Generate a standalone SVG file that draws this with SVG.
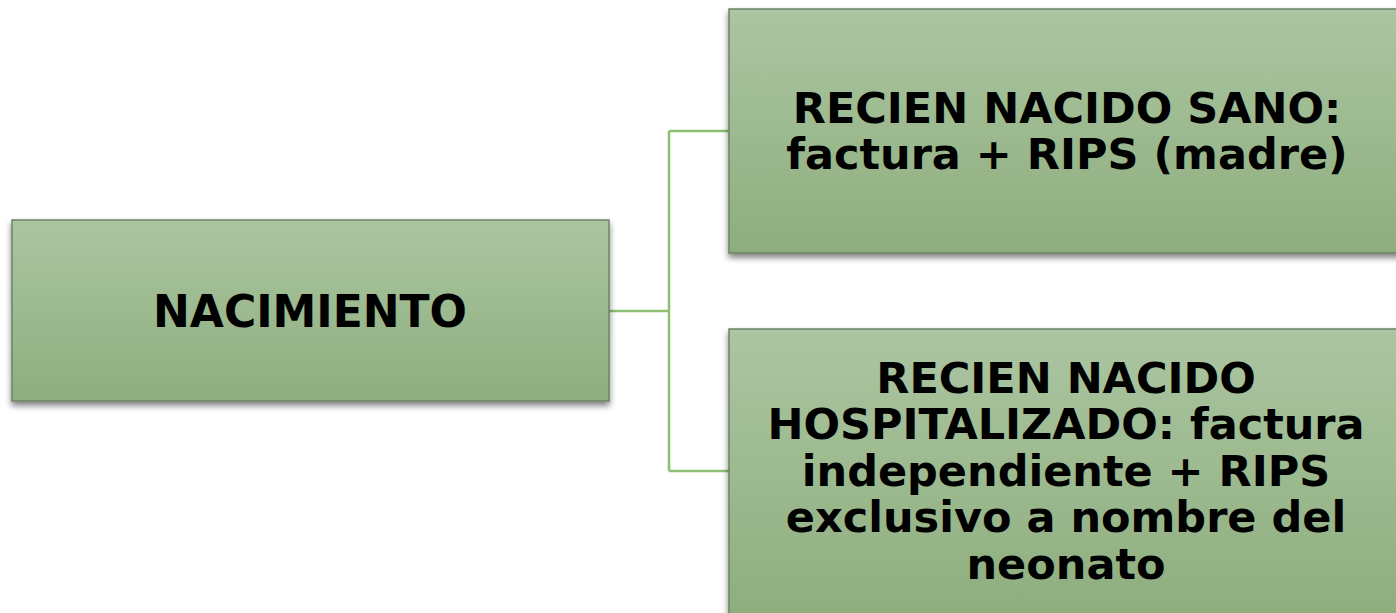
<svg xmlns="http://www.w3.org/2000/svg" width="1396" height="613" viewBox="0 0 1396 613">
  <defs>
    <linearGradient id="g" x1="0" y1="0" x2="0" y2="1">
      <stop offset="0" stop-color="#abc5a1"/>
      <stop offset="1" stop-color="#8eae7e"/>
    </linearGradient>
    <filter id="sh" x="-10%" y="-10%" width="120%" height="130%">
      <feGaussianBlur in="SourceAlpha" stdDeviation="3"/>
      <feOffset dx="0" dy="4" result="b"/>
      <feComponentTransfer><feFuncA type="linear" slope="0.5"/></feComponentTransfer>
      <feMerge><feMergeNode/><feMergeNode in="SourceGraphic"/></feMerge>
    </filter>
  </defs>
  <style>
    .box { fill: url(#g); stroke: #6e8266; stroke-width: 1.5; filter: url(#sh); }
    .lbl { font-family: "DejaVu Sans", Verdana, sans-serif; font-weight: bold; font-size: 43px; fill: #000; text-anchor: middle; }
    .con { fill: none; stroke: #8dc070; stroke-width: 2.5; }
  </style>
  <rect width="1396" height="613" fill="#ffffff"/>
  <g id="connectors">
    <path class="con" d="M609,311 H669 M669,131 V471 M669,131 H729 M669,471 H729"/>
  </g>
  <g id="nacimiento">
    <rect class="box" x="12" y="220" width="597" height="181"/>
    <text class="lbl" x="310" y="327" style="font-size:44px">NACIMIENTO</text>
  </g>
  <g id="sano">
    <rect class="box" x="729" y="9" width="675" height="244"/>
    <text class="lbl" x="1067" y="123">RECIEN NACIDO SANO:</text>
    <text class="lbl" x="1067" y="169">factura + RIPS (madre)</text>
  </g>
  <g id="hospitalizado">
    <rect class="box" x="729" y="329" width="675" height="290"/>
    <text class="lbl" x="1066" y="393">RECIEN NACIDO</text>
    <text class="lbl" x="1066" y="439">HOSPITALIZADO: factura</text>
    <text class="lbl" x="1066" y="486">independiente + RIPS</text>
    <text class="lbl" x="1066" y="532">exclusivo a nombre del</text>
    <text class="lbl" x="1066" y="579">neonato</text>
  </g>
</svg>
